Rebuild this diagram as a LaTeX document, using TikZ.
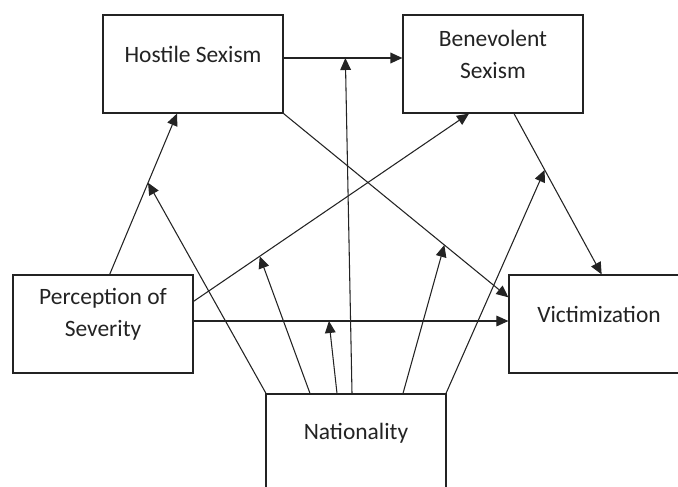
\documentclass[tikz,border=0pt]{standalone}
\usepackage{fontspec}
\setmainfont{Carlito}
\usepackage{tikz}
\usetikzlibrary{arrows.meta, positioning, calc}
\definecolor{boxLine}{RGB}{35,35,35}

\begin{document}
\begin{tikzpicture}[x=0.75pt, y=-0.75pt,
    font=\fontsize{17.6}{24}\selectfont,
    var/.style={draw=boxLine, line width=0.9pt, minimum width=135pt,
                minimum height=73.5pt, inner sep=0pt},
    txt/.style={yshift=7pt, align=center, text=boxLine},
    arr/.style={-{Triangle[length=9pt, width=8pt]}, line width=0.8pt, draw=boxLine}]
\useasboundingbox (0,0) rectangle (678,486);
\clip (0,0) rectangle (678,486);

% VARIABLES
\node[var, label={[txt]center:Hostile Sexism}] (hs) at (193,64) {};
\node[var, label={[txt]center:{Benevolent\\Sexism}}] (bs) at (493,64) {};
\node[var, label={[txt]center:{Perception of\\Severity}}] (ps) at (103,324) {};
\node[var, label={[txt]center:Victimization}] (vi) at (599,324) {};
\node[var, label={[txt]center:Nationality}] (na) at (356,443) {};

% Direct paths
\draw[arr] ([xshift=5pt]ps.north) -- coordinate[pos=0.57] (m1) ([xshift=-12pt]hs.south);
\draw[arr, line width=1.1pt] ([yshift=4.5pt]hs.east) -- coordinate[pos=0.52] (m2) ([yshift=4.5pt]bs.west);
\draw[arr] ([yshift=17pt]ps.east) -- coordinate[pos=0.24] (m3) ([xshift=-18pt]bs.south);
\draw[arr] ([yshift=2.25pt]ps.east) -- coordinate[pos=0.43] (m4) ([yshift=2.25pt]vi.west);
\draw[arr] (hs.south east) -- coordinate[pos=0.715] (m5) ([yshift=20pt]vi.west);
\draw[arr] ([xshift=15.75pt]bs.south) -- coordinate[pos=0.35] (m6) ([xshift=2pt]vi.north);

% Moderation by nationality
\foreach \dx/\m in {-67.5/m1, -34.5/m3, -14.25/m4, -3/m2, 35.25/m5, 67.5/m6}
   \draw[arr] ([xshift=\dx pt]na.north) -- (\m);

\end{tikzpicture}
\end{document}
